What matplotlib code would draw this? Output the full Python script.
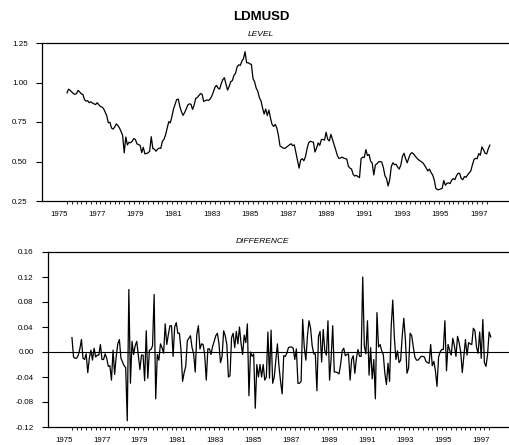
# -*- coding: utf-8 -*-

"""
LDMUSD 走势图
上图为水平值，下图为一阶差分
"""

import numpy as np
import matplotlib
matplotlib.use('Agg')
import matplotlib.pyplot as plt
from matplotlib.ticker import FixedLocator, FormatStrFormatter

# 样本起点：1975年10月，月度数据
start_year = 1975
start_month = 10

# 各年的月度水平值（1975年只有10-12月）
level_1975 = [0.935, 0.958, 0.950]
level_1976 = [0.940, 0.930, 0.925, 0.930, 0.950, 0.940, 0.928, 0.925, 0.892, 0.882, 0.885, 0.872]
level_1977 = [0.878, 0.870, 0.865, 0.860, 0.872, 0.860, 0.848, 0.845, 0.835, 0.812, 0.790, 0.745]
level_1978 = [0.748, 0.712, 0.705, 0.718, 0.738, 0.728, 0.712, 0.690, 0.665, 0.555, 0.655, 0.605]
level_1979 = [0.622, 0.618, 0.628, 0.645, 0.640, 0.612, 0.607, 0.602, 0.556, 0.590, 0.548, 0.551]
level_1980 = [0.555, 0.565, 0.657, 0.582, 0.578, 0.565, 0.578, 0.585, 0.583, 0.628, 0.640, 0.668]
level_1981 = [0.710, 0.752, 0.745, 0.785, 0.832, 0.862, 0.892, 0.895, 0.848, 0.815, 0.792, 0.810]
level_1982 = [0.832, 0.858, 0.865, 0.862, 0.830, 0.858, 0.900, 0.905, 0.918, 0.930, 0.925, 0.880]
level_1983 = [0.885, 0.890, 0.886, 0.895, 0.912, 0.938, 0.968, 0.982, 0.965, 0.958, 0.992, 1.018]
level_1984 = [1.030, 0.990, 0.952, 0.975, 1.005, 1.012, 1.045, 1.058, 1.098, 1.112, 1.108, 1.135]
level_1985 = [1.150, 1.195, 1.125, 1.125, 1.118, 1.115, 1.025, 1.005, 0.965, 0.945, 0.905, 0.885]
level_1986 = [0.840, 0.800, 0.832, 0.790, 0.825, 0.775, 0.735, 0.722, 0.735, 0.712, 0.665, 0.598]
level_1987 = [0.592, 0.585, 0.583, 0.590, 0.598, 0.606, 0.612, 0.600, 0.605, 0.555, 0.505, 0.458]
level_1988 = [0.510, 0.518, 0.505, 0.530, 0.580, 0.618, 0.628, 0.625, 0.622, 0.560, 0.585, 0.618]
level_1989 = [0.602, 0.638, 0.640, 0.635, 0.685, 0.640, 0.630, 0.672, 0.640, 0.608, 0.575, 0.540]
level_1990 = [0.520, 0.522, 0.528, 0.522, 0.518, 0.515, 0.470, 0.458, 0.452, 0.418, 0.408, 0.412]
level_1991 = [0.405, 0.398, 0.518, 0.528, 0.525, 0.575, 0.538, 0.545, 0.502, 0.490, 0.415, 0.478]
level_1992 = [0.486, 0.498, 0.500, 0.496, 0.462, 0.410, 0.392, 0.345, 0.385, 0.468, 0.492, 0.480]
level_1993 = [0.482, 0.465, 0.452, 0.478, 0.532, 0.552, 0.518, 0.492, 0.522, 0.548, 0.556, 0.548]
level_1994 = [0.535, 0.522, 0.512, 0.505, 0.498, 0.490, 0.475, 0.458, 0.440, 0.452, 0.430, 0.415]
level_1995 = [0.385, 0.330, 0.322, 0.322, 0.326, 0.330, 0.380, 0.350, 0.362, 0.365, 0.360, 0.382]
level_1996 = [0.392, 0.385, 0.410, 0.425, 0.425, 0.392, 0.385, 0.405, 0.400, 0.415, 0.428, 0.440]
level_1997 = [0.478, 0.512, 0.520, 0.518, 0.550, 0.540, 0.592, 0.575, 0.552, 0.548, 0.580, 0.604]

# 坐标轴刻度
level_yticks = [0.25, 0.50, 0.75, 1.00, 1.25]
diff_yticks = [-0.12, -0.08, -0.04, 0.00, 0.04, 0.08, 0.12, 0.16]
year_labels = list(range(1975, 1998, 2))


def build_series():
    """拼接各年数据并生成时间轴"""
    level = np.array(level_1975 + level_1976 + level_1977 + level_1978 + level_1979
                     + level_1980 + level_1981 + level_1982 + level_1983 + level_1984
                     + level_1985 + level_1986 + level_1987 + level_1988 + level_1989
                     + level_1990 + level_1991 + level_1992 + level_1993 + level_1994
                     + level_1995 + level_1996 + level_1997)
    t = start_year + (start_month - 1) / 12.0 + np.arange(len(level)) / 12.0
    return t, level


def style_axis(ax, t, label_offset):
    """EViews 风格：左、上、下边框，季度小刻度"""
    ax.spines['right'].set_visible(False)
    for s in ['left', 'top', 'bottom']:
        ax.spines[s].set_linewidth(0.9)

    # 季度刻度只覆盖样本区间
    quarters = np.arange(t[0], t[-1] + 0.01, 0.25)
    ax.xaxis.set_minor_locator(FixedLocator(quarters))
    ax.tick_params(axis='x', which='minor', direction='out', length=2.2, width=0.6)

    # 年份标签（不画主刻度线）
    ax.set_xticks([y + label_offset for y in year_labels])
    ax.set_xticklabels([str(y) for y in year_labels])
    ax.tick_params(axis='x', which='major', length=0, pad=7.5, labelsize=5.6)

    ax.tick_params(axis='y', which='major', direction='out', length=4.3, width=0.8,
                   pad=6, labelsize=5.8)
    ax.yaxis.set_major_formatter(FormatStrFormatter('%.2f'))


def main():
    plt.rcParams['font.family'] = ['Liberation Sans', 'DejaVu Sans']

    t, level = build_series()
    diff = np.diff(level)

    fig = plt.figure(figsize=(5.09, 4.45), dpi=100)

    # 上图：水平值
    ax1 = fig.add_axes([42 / 509, 1 - 201 / 445, 1 - 42 / 509, 158 / 445])
    ax1.plot(t, level, color='black', linewidth=0.9)
    ax1.set_ylim(0.25, 1.25)
    ax1.set_yticks(level_yticks)
    ax1.set_xlim(1974.44, 1998.92)
    style_axis(ax1, t, 0.33)

    # 下图：一阶差分
    ax2 = fig.add_axes([48 / 509, 1 - 427 / 445, 1 - 48 / 509, 175 / 445])
    ax2.plot(t[1:], diff, color='black', linewidth=0.9)
    ax2.axhline(0.0, color='black', linewidth=0.8)
    ax2.set_ylim(-0.12, 0.16)
    ax2.set_yticks(diff_yticks)
    ax2.set_xlim(1974.57, 1998.88)
    style_axis(ax2, t[1:], 0.4)

    # 标题
    fig.text(261 / 509, 1 - 17 / 445, 'LDMUSD', ha='center', va='center',
             fontsize=9.5, fontweight='bold')
    fig.text(261 / 509, 1 - 34.7 / 445, 'LEVEL', ha='center', va='center',
             fontsize=6, style='italic')
    fig.text(262 / 509, 1 - 241.7 / 445, 'DIFFERENCE', ha='center', va='center',
             fontsize=6, style='italic')

    fig.savefig('out.png', dpi=100)


if __name__ == '__main__':
    main()
